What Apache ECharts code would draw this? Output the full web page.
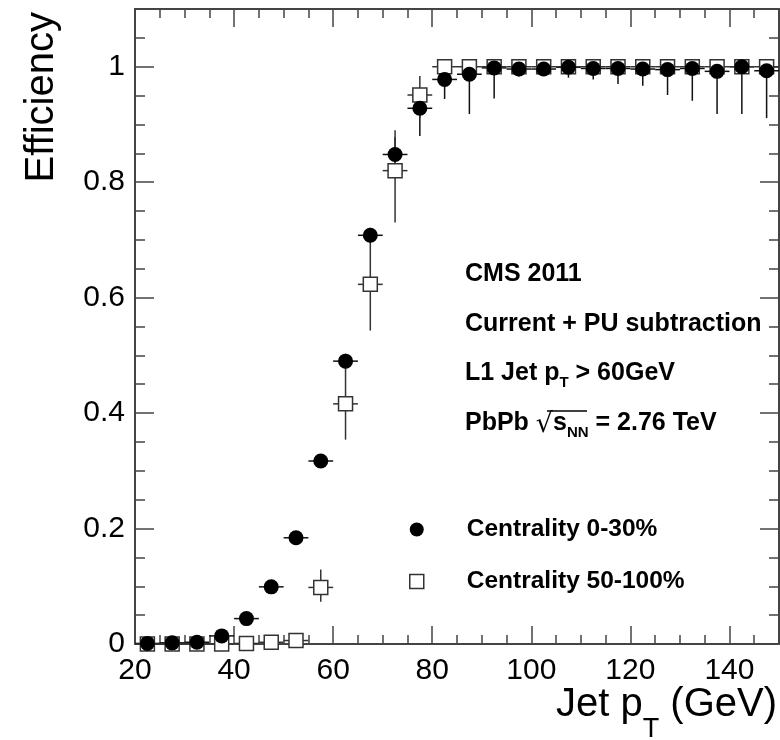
<!DOCTYPE html>
<html>
<head>
<meta charset="utf-8">
<script src="https://cdn.jsdelivr.net/npm/echarts@6/dist/echarts.min.js"></script>
<style>
html, body { margin: 0; padding: 0; background: #fff; }
#chart { width: 780px; height: 740px; }
</style>
</head>
<body>
<div id="chart"></div>
<script>
// ---- data ----
const binCenters = [22.5, 27.5, 32.5, 37.5, 42.5, 47.5, 52.5, 57.5, 62.5, 67.5, 72.5, 77.5, 82.5,
  87.5, 92.5, 97.5, 102.5, 107.5, 112.5, 117.5, 122.5, 127.5, 132.5, 137.5, 142.5, 147.5];
const binHalfWidth = 2.5;

const effCentral = [0.001, 0.002, 0.003, 0.014, 0.044, 0.099, 0.184, 0.317, 0.490, 0.708, 0.848, 0.928, 0.978,
  0.987, 0.998, 0.996, 0.996, 0.999, 0.997, 0.997, 0.996, 0.995, 0.997, 0.992, 1.000, 0.993];
const errLowCentral = [0.002, 0.002, 0.002, 0.003, 0.005, 0.008, 0.010, 0.012, 0.013, 0.013, 0.030, 0.048, 0.034,
  0.069, 0.053, 0.013, 0.009, 0.018, 0.019, 0.027, 0.029, 0.044, 0.056, 0.074, 0.082, 0.082];
const errHighCentral = [0.002, 0.002, 0.002, 0.003, 0.005, 0.008, 0.010, 0.012, 0.013, 0.013, 0.030, 0.020, 0.010,
  0.010, 0.002, 0.003, 0.003, 0.001, 0.003, 0.003, 0.004, 0.005, 0.003, 0.008, 0.000, 0.007];

const effPeripheral = [0.000, 0.000, 0.000, 0.000, 0.001, 0.003, 0.006, 0.098, 0.416, 0.623, 0.820, 0.951, 1.000,
  1.000, 1.000, 1.000, 1.000, 1.000, 1.000, 1.000, 1.000, 1.000, 1.000, 1.000, 1.000, 1.000];
const errLowPeripheral = [0.000, 0.000, 0.000, 0.000, 0.001, 0.003, 0.005, 0.025, 0.062, 0.080, 0.090, 0.040, 0.004,
  0.004, 0.002, 0.002, 0.002, 0.002, 0.002, 0.002, 0.002, 0.002, 0.002, 0.002, 0.002, 0.002];
const errHighPeripheral = [0.000, 0.000, 0.000, 0.000, 0.001, 0.004, 0.007, 0.031, 0.074, 0.080, 0.070, 0.033, 0.000,
  0.000, 0.000, 0.000, 0.000, 0.000, 0.000, 0.000, 0.000, 0.000, 0.000, 0.000, 0.000, 0.000];

const xTickMajor = 20, xTickMinor = 5, xMin = 20, xMax = 150;
const yTickMajor = 0.2, yTickMinor = 0.05, yMin = 0, yMax = 1.1;

const seriesNames = ['Centrality 0-30%', 'Centrality 50-100%'];
const annotationLines = [
  '{m|CMS 2011}',
  '{m|Current + PU subtraction}',
  '{m|L1 Jet p}{s|T}{m| > 60GeV}',
  '{m|PbPb }{r|\u221A}{m|s}{s|NN}{m| = 2.76 TeV}'
];

// ---- chart ----
const FONT = 'Liberation Sans';
const frameColor = '#444';
const tickStyle = { color: frameColor, width: 1.5 };

function errSeries(name, y, lo, hi, color) {
  return {
    type: 'custom', name: name, xAxisIndex: 0, yAxisIndex: 0, z: 2, silent: true,
    encode: { x: 0, y: 1 },
    data: binCenters.map((x, i) => [x, y[i], lo[i], hi[i]]),
    renderItem: function (params, api) {
      const xv = api.value(0), yv = api.value(1), l = api.value(2), h = api.value(3);
      const a = api.coord([xv - binHalfWidth, yv]);
      const b = api.coord([xv + binHalfWidth, yv]);
      const c = api.coord([xv, yv - l]);
      const d = api.coord([xv, yv + h]);
      const style = { stroke: color, lineWidth: 1.5 };
      return {
        type: 'group',
        children: [
          { type: 'line', shape: { x1: a[0], y1: a[1], x2: b[0], y2: b[1] }, style: style },
          { type: 'line', shape: { x1: c[0], y1: c[1], x2: d[0], y2: d[1] }, style: style }
        ]
      };
    }
  };
}

function xAx(position, interval, major) {
  return {
    type: 'value', min: xMin, max: xMax, interval: interval, position: position, gridIndex: 0,
    axisLine: { show: major, onZero: false, lineStyle: { color: frameColor, width: 2 } },
    axisTick: { show: true, inside: true, length: major ? 18 : 9, lineStyle: tickStyle },
    axisLabel: { show: false }, splitLine: { show: false }
  };
}
function yAx(position, interval, major) {
  return {
    type: 'value', min: yMin, max: yMax, interval: interval, position: position, gridIndex: 0,
    axisLine: { show: major, onZero: false, lineStyle: { color: frameColor, width: 2 } },
    axisTick: { show: true, inside: true, length: major ? 19 : 10, lineStyle: tickStyle },
    axisLabel: { show: false }, splitLine: { show: false }
  };
}

const xMain = xAx('bottom', xTickMajor, true);
xMain.axisLabel = { show: true, fontSize: 30, color: '#000', fontFamily: FONT, margin: 12, showMaxLabel: false };
xMain.name = '{m|Jet p}{s|T}{m| (GeV)}';
xMain.nameLocation = 'end';
xMain.nameGap = 0;
xMain.nameMoveOverlap = false;
xMain.nameTextStyle = {
  align: 'right', verticalAlign: 'top', padding: [41, 2, 0, 0],
  rich: {
    m: { fontSize: 40, lineHeight: 40, fontFamily: FONT, color: '#000', verticalAlign: 'top' },
    s: { fontSize: 27, lineHeight: 27, fontFamily: FONT, color: '#000', verticalAlign: 'top', padding: [31, 0, 0, 0] }
  }
};

const yMain = yAx('left', yTickMajor, true);
yMain.axisLabel = { show: true, fontSize: 30, color: '#000', fontFamily: FONT, margin: 10, showMaxLabel: false };
yMain.name = 'Efficiency';
yMain.nameLocation = 'end';
yMain.nameGap = -3;
yMain.nameRotate = 90;
yMain.nameMoveOverlap = false;
yMain.nameTextStyle = {
  fontSize: 40, lineHeight: 40, fontFamily: FONT, color: '#000',
  align: 'right', verticalAlign: 'bottom', padding: [0, 0, 73, 0]
};

const annRich = {
  m: { fontSize: 25, lineHeight: 25, fontWeight: 'bold', fontFamily: FONT, color: '#000', verticalAlign: 'top' },
  s: { fontSize: 15, lineHeight: 15, fontWeight: 'bold', fontFamily: FONT, color: '#000', verticalAlign: 'top', padding: [14, 0, 0, 0] },
  r: { fontSize: 27, lineHeight: 25, fontWeight: 'normal', fontFamily: 'DejaVu Sans', color: '#000', verticalAlign: 'top' }
};
const annTops = [262, 312, 361, 411];

const graphics = annotationLines.map((t, i) => ({
  type: 'text', x: 465, y: annTops[i], z: 10,
  style: { text: t, rich: annRich, verticalAlign: 'top', align: 'left' }
}));
graphics.push({
  type: 'line', z: 10,
  shape: { x1: 547, y1: 411, x2: 587, y2: 411 },
  style: { stroke: '#000', lineWidth: 1.5 }
});

const option = {
  animation: false,
  backgroundColor: '#fff',
  textStyle: { fontFamily: FONT },
  grid: { left: 135, right: 1, top: 9, bottom: 96, outerBoundsMode: 'none', containLabel: false },
  xAxis: [xMain, xAx('bottom', xTickMinor, false), xAx('top', xTickMajor, true), xAx('top', xTickMinor, false)],
  yAxis: [yMain, yAx('left', yTickMinor, false), yAx('right', yTickMajor, true), yAx('right', yTickMinor, false)],
  legend: {
    orient: 'vertical', left: 404, top: 512, itemWidth: 90, itemHeight: 14, itemGap: 27,
    selectedMode: false,
    textStyle: { fontSize: 24.5, lineHeight: 24, fontWeight: 'bold', color: '#000', fontFamily: FONT },
    data: [
      { name: seriesNames[0], icon: 'circle', itemStyle: { color: '#000', borderWidth: 0 } },
      { name: seriesNames[1], icon: 'path://M0,0L10,0L10,10L0,10Z',
        itemStyle: { color: '#fff', borderColor: '#333', borderWidth: 1.5 } }
    ]
  },
  graphic: graphics,
  series: [
    errSeries('err-central', effCentral, errLowCentral, errHighCentral, '#111'),
    errSeries('err-peripheral', effPeripheral, errLowPeripheral, errHighPeripheral, '#333'),
    {
      type: 'scatter', name: seriesNames[1], xAxisIndex: 0, yAxisIndex: 0, z: 3, clip: false,
      symbol: 'rect', symbolSize: 14,
      itemStyle: { color: '#fff', borderColor: '#333', borderWidth: 1.5, opacity: 1 },
      data: binCenters.map((x, i) => [x, effPeripheral[i]])
    },
    {
      type: 'scatter', name: seriesNames[0], xAxisIndex: 0, yAxisIndex: 0, z: 4, clip: false,
      symbol: 'circle', symbolSize: 15,
      itemStyle: { color: '#000', opacity: 1 },
      data: binCenters.map((x, i) => [x, effCentral[i]])
    }
  ]
};

const chart = echarts.init(document.getElementById('chart'), null, { renderer: 'canvas' });
chart.setOption(option);
</script>
</body>
</html>
